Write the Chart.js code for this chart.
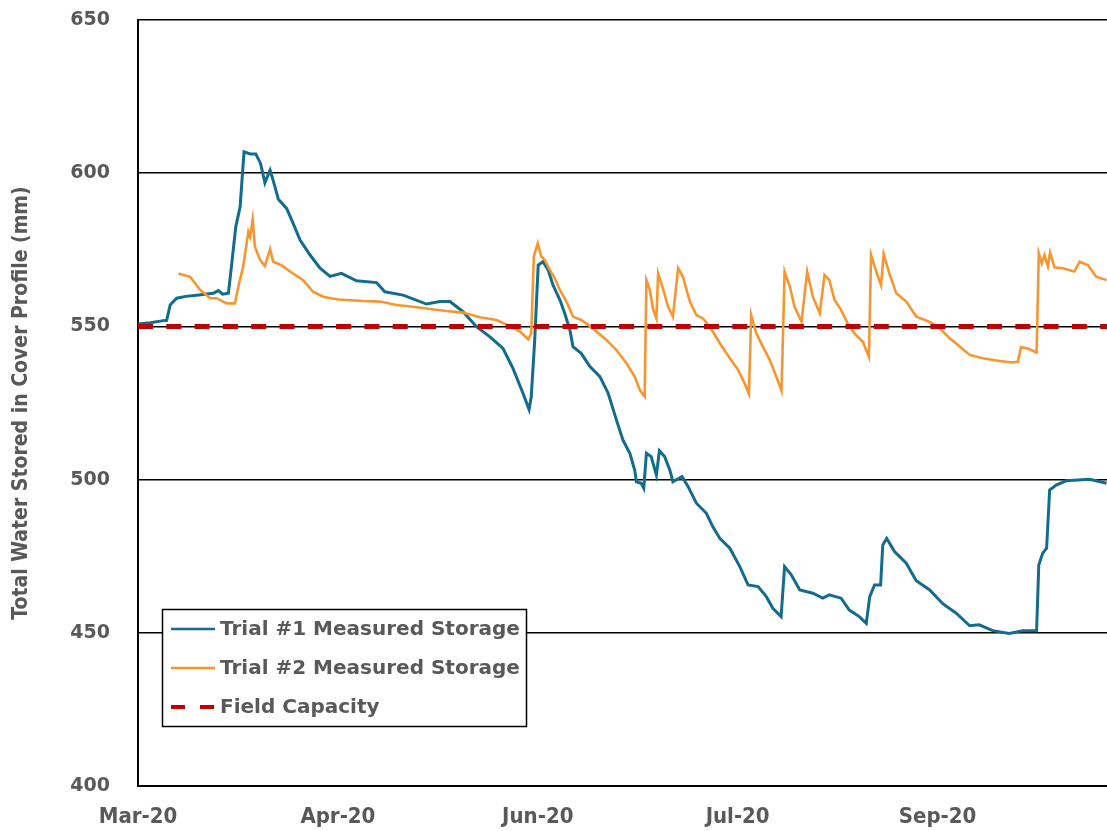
<!DOCTYPE html>
<html><head><meta charset="utf-8">
<script src="https://cdn.jsdelivr.net/npm/chart.js@4.4.1/dist/chart.umd.min.js"></script>
<style>html,body{margin:0;padding:0;background:#fff;overflow:hidden}#wrap{width:1107px;height:831px;position:relative}</style>
</head><body><div id="wrap"><canvas id="c" width="1107" height="831"></canvas></div>
<script>
// x values are days since 1 Mar 2020
const tickDays = [0, 46, 92, 138, 184];
const tickLabels = ['Mar-20', 'Apr-20', 'Jun-20', 'Jul-20', 'Sep-20'];

const seriesNames = ['Trial #1 Measured Storage', 'Trial #2 Measured Storage', 'Field Capacity'];

const t1Days = [0,2.8,5.5,6.6,7.4,8.9,11,13.5,17.3,18.5,19.5,20.8,21.5,22.5,23.5,24.4,25.8,27.1,28.2,29.2,30.4,31.3,32.3,34.2,35.7,37.3,39.6,41.9,44.2,46.8,50.3,54.9,56.8,61,66.4,69.5,71.8,74.8,77.9,81,84,86.3,88.6,90,90.5,91.3,92.1,93.2,94.4,95.5,97.1,98.2,99.4,100.1,102,104,106.3,108.2,110.1,111.6,113.2,114.3,114.7,115.8,116.4,117,118.1,119.3,120,121.2,122.4,123.1,125.2,126.6,128.5,130.8,132.3,133.9,136.2,138.5,140.4,142.7,144.6,146.1,148,148.8,150.3,152.3,155.3,157.6,159.1,161.8,163.7,166,167.6,168.4,169.5,170.9,171.4,172.3,174.1,176.8,179.1,182.2,185.2,188.3,191.4,193.6,196.7,200.5,203.6,206.8,207.3,208.2,209.1,209.8,211.3,213.6,219,222.9];
const t1Values = [550.8,551.2,551.8,552.0,557.0,559.2,559.8,560.2,560.8,561.7,560.5,560.8,569.5,582.5,589,607,606.3,606.3,603.2,596.9,601,596.7,591.5,588.5,583.6,578.2,573.3,569,566.3,567.3,564.9,564.3,561.3,560.2,557.3,558.1,558.1,554.8,549.9,546.6,542.8,536.3,528.2,522.9,527,545.6,570,571.1,568.4,563.5,558.6,554.3,548.8,543.4,541.2,536.9,533.6,528.2,519.5,512.9,508.6,503.1,499.3,498.8,497.2,508.6,507.5,501.5,509.4,507.5,503.1,499.3,501,497.7,492.3,489,484.6,480.8,477.6,471.6,465.6,465.1,461.8,458,455.3,471.6,469,464,462.9,461.3,462.4,461.3,457.4,455.3,453.1,461.8,465.6,465.6,478.7,480.8,476.5,472.7,467,464,459.5,456.4,452.3,452.6,450.7,449.8,450.7,450.7,472.1,476,477.6,496.6,498.2,499.6,500.1,498.8];

const t2Days = [9.3,12,14.3,16.6,18.1,20.4,22.3,23.1,24.2,25.4,25.8,26.4,26.9,28.1,29.2,30.4,31.1,33,35,38,40.3,42.6,46.1,51.8,55.7,59.5,63.3,67.2,71,74.8,78.7,82.5,85.6,87.9,89.8,90.5,91.1,92,92.8,93.6,94.8,95.9,97.1,98.6,100.1,102,103.6,105.5,107.8,110.1,112.4,114.3,115.5,116.6,117,117.8,118.5,119.3,119.7,120.8,122,123.1,124.3,125.4,127,128.5,130,131.6,133.9,136.2,138.1,139.6,140.6,141.1,142.3,143.8,145.4,146.9,148.1,148.8,150,151.1,152.7,154,155.3,156.9,158,159.1,160.3,161.8,163.3,164.9,166.8,168.2,168.7,169.9,171,171.6,172.9,174.5,176.8,179.1,182.2,184.5,186.8,189.1,191.4,194.4,198.3,201.3,202.5,203.2,204.8,206.8,207.3,208,208.6,209.4,209.9,210.9,212.8,215.5,216.7,218.6,220.5,222.9];
const t2Values = [567.3,566.2,561.9,559.2,559.2,557.5,557.5,563,569.5,580.9,579.3,585,576,571.7,569.7,575.2,571.1,570,567.9,565.1,561.3,559.7,558.8,558.3,558.1,557,556.4,555.7,555,554.5,553,552.1,550.1,548.3,545.8,547.7,572.8,577.1,572.8,571.7,568.4,565.7,561.9,558.1,553.2,552.1,550.5,548.3,545.6,542.3,538,533.6,529.2,527.1,565.1,561.9,555.9,552.6,567.3,562.4,556.4,553.2,569,566.2,558.1,553.7,552.6,549.9,544.5,539.6,535.8,531.4,528,553.7,547.7,543.4,539,533.6,529,567.9,563,556.4,551.5,567.9,559.7,554.3,566.8,565.1,558.6,555.4,551,547.7,545,540.1,573.3,567.9,563.5,573.6,567.3,560.8,558.1,553.2,551.5,549.4,546.1,543.4,540.7,539.6,538.7,538.2,538.5,543.2,542.8,541.5,573.9,570.6,573.3,569.7,574.1,569.3,569,567.9,571.1,570,566.2,565.1];

const fcDays = [0, 223];
const fcValues = [550, 550];

const zip = (xs, ys) => xs.map((x, i) => ({x, y: ys[i]}));

const legendBox = {
  id: 'legendBox',
  afterDraw(chart) {
    const ctx = chart.ctx;
    ctx.save();
    const x = 162.5, y = 609.5, w = 364, h = 117;
    ctx.fillStyle = '#fff';
    ctx.fillRect(x, y, w, h);
    ctx.strokeStyle = '#000';
    ctx.lineWidth = 1.5;
    ctx.strokeRect(x, y, w, h);
    const rows = [629, 668, 707];
    chart.data.datasets.forEach((ds, i) => {
      const ry = rows[i];
      ctx.beginPath();
      ctx.strokeStyle = ds.borderColor;
      ctx.lineWidth = i === 2 ? 4 : 2.5;
      ctx.setLineDash(i === 2 ? [14, 15] : []);
      ctx.moveTo(171, ry);
      ctx.lineTo(215, ry);
      ctx.stroke();
      ctx.setLineDash([]);
      ctx.fillStyle = '#595959';
      ctx.font = 'bold 20px "DejaVu Sans"';
      ctx.textBaseline = 'middle';
      ctx.fillText(ds.label, 220, ry + 1);
    });
    ctx.restore();
  }
};

new Chart(document.getElementById('c'), {
  type: 'line',
  data: {
    datasets: [
      {label: seriesNames[0], data: zip(t1Days, t1Values), borderColor: '#136C8C', borderWidth: 3, pointRadius: 0, tension: 0, order: 2},
      {label: seriesNames[1], data: zip(t2Days, t2Values), borderColor: '#F7962F', borderWidth: 2.6, pointRadius: 0, tension: 0, order: 1},
      {label: seriesNames[2], data: zip(fcDays, fcValues), borderColor: '#C00000', borderWidth: 5, borderDash: [15, 13.3], pointRadius: 0, tension: 0, order: 0}
    ]
  },
  options: {
    responsive: false,
    animation: false,
    layout: {padding: {top: 20, right: 0, left: 0, bottom: 0}},
    plugins: {legend: {display: false}, tooltip: {enabled: false}},
    scales: {
      x: {
        type: 'linear', min: 0, max: 223,
        afterBuildTicks: (s) => { s.ticks = tickDays.map(v => ({value: v})); },
        afterFit: (s) => { s.height = 45; s.paddingTop = 0; s.paddingBottom = 0; },
        grid: {display: false, drawTicks: false},
        border: {display: true, color: '#000', width: 2},
        ticks: {
          autoSkip: false, maxRotation: 0, padding: 18,
          color: '#595959',
          font: {family: '"DejaVu Sans Condensed", "DejaVu Sans"', weight: 'bold', size: 22},
          callback: (v) => { const i = tickDays.indexOf(v); return i >= 0 ? tickLabels[i] : ''; }
        }
      },
      y: {
        min: 400, max: 650,
        afterFit: (s) => { s.width = 138; s.paddingTop = 0; s.paddingBottom = 0; },
        grid: {color: '#000', lineWidth: 1.6, drawTicks: false},
        border: {display: true, color: '#000', width: 2},
        ticks: {stepSize: 50, padding: 28, color: '#595959', font: {family: '"DejaVu Sans"', weight: 'bold', size: 19}},
        title: {display: true, text: 'Total Water Stored in Cover Profile (mm)', color: '#595959',
          font: {family: '"DejaVu Sans Condensed", "DejaVu Sans"', weight: 'bold', size: 21}, padding: {top: 9, bottom: 0}}
      }
    }
  },
  plugins: [legendBox]
});
</script></body></html>
